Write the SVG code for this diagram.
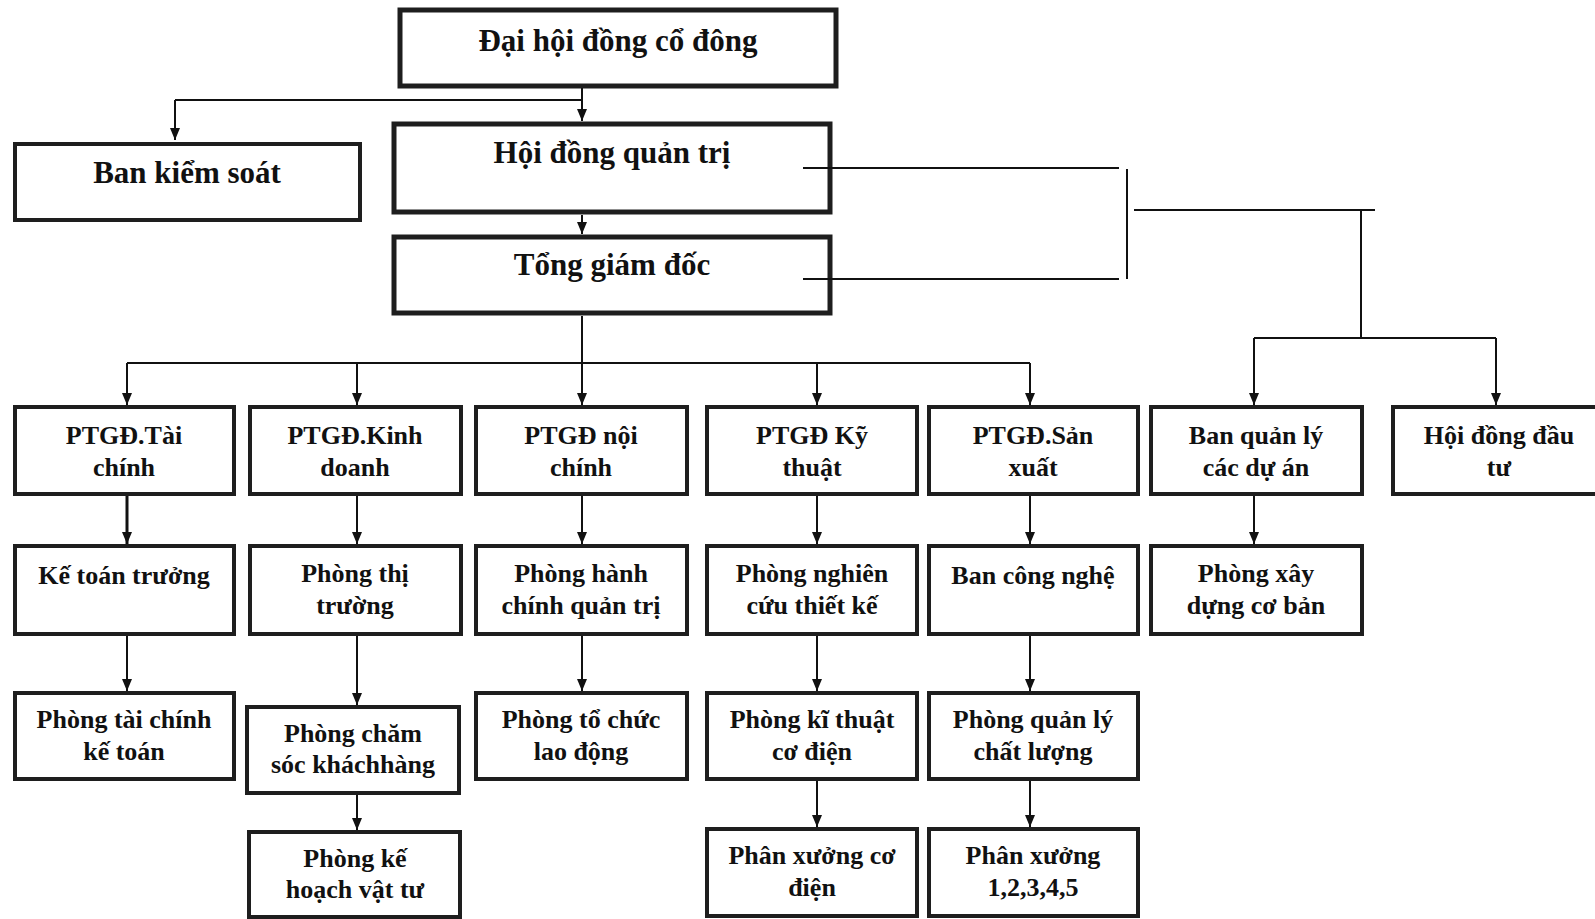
<svg xmlns="http://www.w3.org/2000/svg" width="1595" height="919" viewBox="0 0 1595 919">
<defs>
<style>
.box{fill:#fff;stroke:#1e1e1e;stroke-width:4}
.big{fill:#fff;stroke:#1e1e1e;stroke-width:5}
.t{font-family:"Liberation Serif","Times New Roman",serif;font-weight:bold;font-size:26px;fill:#111;text-anchor:middle}
.tb{font-family:"Liberation Serif","Times New Roman",serif;font-weight:bold;font-size:31px;fill:#111;text-anchor:middle}
.ln{fill:none;stroke:#111;stroke-width:2}
.ar{fill:none;stroke:#111;stroke-width:2;marker-end:url(#ah)}
</style>
<marker id="ah" viewBox="0 0 12 10" refX="12" refY="5" markerWidth="12" markerHeight="10" markerUnits="userSpaceOnUse" orient="auto">
<path d="M0,0 L12,5 L0,10 z" fill="#111"/>
</marker>
</defs>
<rect width="1595" height="919" fill="#fff"/>

<g id="dhdcd"><rect class="big" x="400" y="10" width="436" height="76"/><text class="tb" x="618" y="51">Đại hội đồng cổ đông</text></g>
<g id="bks"><rect class="box" x="15" y="144" width="345" height="76"/><text class="tb" x="187" y="183">Ban kiểm soát</text></g>
<g id="hdqt"><rect class="big" x="394" y="124" width="436" height="88"/><text class="tb" x="612" y="163">Hội đồng quản trị</text></g>
<g id="tgd"><rect class="big" x="394" y="237" width="436" height="76"/><text class="tb" x="612" y="275">Tổng giám đốc</text></g>

<g id="ptgd-tc"><rect class="box" x="15" y="407" width="219" height="87"/><text class="t" x="124" y="444">PTGĐ.Tài</text><text class="t" x="124" y="476">chính</text></g>
<g id="ptgd-kd"><rect class="box" x="250" y="407" width="211" height="87"/><text class="t" x="355" y="444">PTGĐ.Kinh</text><text class="t" x="355" y="476">doanh</text></g>
<g id="ptgd-nc"><rect class="box" x="476" y="407" width="211" height="87"/><text class="t" x="581" y="444">PTGĐ nội</text><text class="t" x="581" y="476">chính</text></g>
<g id="ptgd-kt"><rect class="box" x="707" y="407" width="210" height="87"/><text class="t" x="812" y="444">PTGĐ Kỹ</text><text class="t" x="812" y="476">thuật</text></g>
<g id="ptgd-sx"><rect class="box" x="929" y="407" width="209" height="87"/><text class="t" x="1033" y="444">PTGĐ.Sản</text><text class="t" x="1033" y="476">xuất</text></g>
<g id="bql"><rect class="box" x="1151" y="407" width="211" height="87"/><text class="t" x="1256" y="444">Ban quản lý</text><text class="t" x="1256" y="476">các dự án</text></g>
<g id="hddt"><rect class="box" x="1393" y="407" width="212" height="87"/><text class="t" x="1499" y="444">Hội đồng đầu</text><text class="t" x="1499" y="476">tư</text></g>

<g id="ktt"><rect class="box" x="15" y="546" width="219" height="88"/><text class="t" x="124" y="584">Kế toán trưởng</text></g>
<g id="ptt"><rect class="box" x="250" y="546" width="211" height="88"/><text class="t" x="355" y="582">Phòng thị</text><text class="t" x="355" y="614">trường</text></g>
<g id="phc"><rect class="box" x="476" y="546" width="211" height="88"/><text class="t" x="581" y="582">Phòng hành</text><text class="t" x="581" y="614">chính quản trị</text></g>
<g id="pnc"><rect class="box" x="707" y="546" width="210" height="88"/><text class="t" x="812" y="582">Phòng nghiên</text><text class="t" x="812" y="614">cứu thiết kế</text></g>
<g id="bcn"><rect class="box" x="929" y="546" width="209" height="88"/><text class="t" x="1033" y="584">Ban công nghệ</text></g>
<g id="pxd"><rect class="box" x="1151" y="546" width="211" height="88"/><text class="t" x="1256" y="582">Phòng xây</text><text class="t" x="1256" y="614">dựng cơ bản</text></g>

<g id="ptckt"><rect class="box" x="15" y="693" width="219" height="86"/><text class="t" x="124" y="728">Phòng tài chính</text><text class="t" x="124" y="760">kế toán</text></g>
<g id="pcskh"><rect class="box" x="247" y="707" width="212" height="86"/><text class="t" x="353" y="742">Phòng chăm</text><text class="t" x="353" y="773">sóc kháchhàng</text></g>
<g id="ptcld"><rect class="box" x="476" y="693" width="211" height="86"/><text class="t" x="581" y="728">Phòng tổ chức</text><text class="t" x="581" y="760">lao động</text></g>
<g id="pktcd"><rect class="box" x="707" y="693" width="210" height="86"/><text class="t" x="812" y="728">Phòng kĩ thuật</text><text class="t" x="812" y="760">cơ điện</text></g>
<g id="pqlcl"><rect class="box" x="929" y="693" width="209" height="86"/><text class="t" x="1033" y="728">Phòng quản lý</text><text class="t" x="1033" y="760">chất lượng</text></g>

<g id="pkhvt"><rect class="box" x="249" y="832" width="211" height="85"/><text class="t" x="355" y="867">Phòng kế</text><text class="t" x="355" y="898">hoạch vật tư</text></g>
<g id="pxcd"><rect class="box" x="707" y="829" width="210" height="87"/><text class="t" x="812" y="864">Phân xưởng cơ</text><text class="t" x="812" y="896">điện</text></g>
<g id="px12345"><rect class="box" x="929" y="829" width="209" height="87"/><text class="t" x="1033" y="864">Phân xưởng</text><text class="t" x="1033" y="896">1,2,3,4,5</text></g>

<g id="connectors">
<path class="ln" d="M582,88 V100 M175,100 H582"/>
<path class="ar" d="M175,100 V140"/>
<path class="ar" d="M582,100 V121"/>
<path class="ar" d="M582,215 V234"/>
<path class="ln" d="M582,316 V363 M127,363 H1030"/>
<path class="ar" d="M127,363 V405"/>
<path class="ar" d="M357,363 V405"/>
<path class="ar" d="M582,363 V405"/>
<path class="ar" d="M817,363 V405"/>
<path class="ar" d="M1030,363 V405"/>
<path class="ln" d="M803,168 H1119 M803,279 H1119 M1127,169 V279 M1134,210 H1375 M1361,210 V338 M1254,338 H1496"/>
<path class="ar" d="M1254,338 V405"/>
<path class="ar" d="M1496,338 V405"/>
<path class="ar" style="stroke-width:3" d="M127,496 V544"/>
<path class="ar" d="M127,636 V691"/>
<path class="ar" d="M357,496 V544"/>
<path class="ar" d="M357,636 V705"/>
<path class="ar" d="M357,795 V830"/>
<path class="ar" d="M582,496 V544"/>
<path class="ar" d="M582,636 V691"/>
<path class="ar" d="M817,496 V544"/>
<path class="ar" d="M817,636 V691"/>
<path class="ar" d="M817,781 V827"/>
<path class="ar" d="M1030,496 V544"/>
<path class="ar" d="M1030,636 V691"/>
<path class="ar" d="M1030,781 V827"/>
<path class="ar" d="M1254,496 V544"/>
</g>
</svg>
